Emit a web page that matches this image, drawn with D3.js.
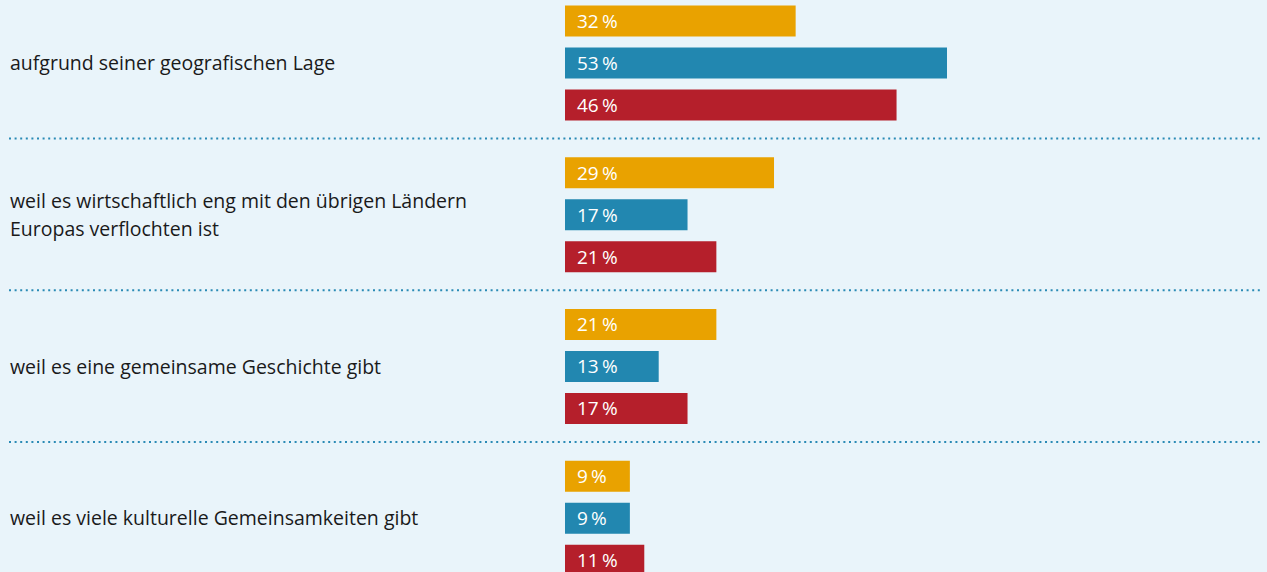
<!DOCTYPE html>
<html>
<head>
<meta charset="utf-8">
<script src="https://cdn.jsdelivr.net/npm/d3@7"></script>
<style>
  html, body { margin: 0; padding: 0; background: #e9f4fa; }
  svg { display: block; }
  text { font-family: "Open Sans", "Noto Sans", sans-serif; }
</style>
</head>
<body>
<svg id="chart"></svg>
<script>
var categories = [
  ["aufgrund seiner geografischen Lage"],
  ["weil es wirtschaftlich eng mit den übrigen Ländern", "Europas verflochten ist"],
  ["weil es eine gemeinsame Geschichte gibt"],
  ["weil es viele kulturelle Gemeinsamkeiten gibt"]
];
var series = ["A", "B", "C"];
var valuesA = [32, 29, 21, 9];
var valuesB = [53, 17, 13, 9];
var valuesC = [46, 21, 17, 11];
var colors = ["#e9a200", "#2287b0", "#b51f2b"];

var width = 1267, height = 572;
var svg = d3.select("#chart").attr("width", width).attr("height", height);

var catKeys = categories.map((c, i) => i);
var yGroup = d3.scaleBand().domain(catKeys).range([0, 607]);
var yInner = d3.scaleBand().domain(series).range([0, 126])
    .paddingInner(11 / 42).paddingOuter(11 / 84);
var x = d3.scaleLinear().domain([0, 53]).range([565, 947]);
var color = d3.scaleOrdinal().domain(series).range(colors);

var table = catKeys.map(i => ({
  cat: i,
  vals: [valuesA[i], valuesB[i], valuesC[i]].map((v, j) => ({key: series[j], value: v}))
}));

// dotted separators
svg.append("g").selectAll("line")
  .data(catKeys.slice(0, -1))
  .enter().append("line")
  .attr("x1", 9).attr("x2", 1260)
  .attr("y1", d => yGroup(d) + 138.5).attr("y2", d => yGroup(d) + 138.5)
  .attr("stroke", "#2a8ab5")
  .attr("stroke-width", 2)
  .attr("stroke-dasharray", "2 3.6");

var g = svg.append("g").selectAll("g")
  .data(table)
  .enter().append("g")
  .attr("transform", d => `translate(0, ${yGroup(d.cat)})`);

g.selectAll("rect")
  .data(d => d.vals)
  .enter().append("rect")
  .attr("x", x(0))
  .attr("y", d => yInner(d.key))
  .attr("width", d => x(d.value) - x(0))
  .attr("height", yInner.bandwidth())
  .attr("fill", d => color(d.key));

g.selectAll("text.val")
  .data(d => d.vals)
  .enter().append("text")
  .attr("class", "val")
  .attr("x", x(0) + 12)
  .attr("y", d => yInner(d.key) + yInner.bandwidth() / 2)
  .attr("dy", "0.36em")
  .attr("fill", "#fff")
  .style("font-size", "19px")
  .text(d => d.value + "\u2009%");

// category labels, centered on middle bar
g.append("text")
  .attr("x", 10)
  .attr("fill", "#1a1a1a")
  .style("font-size", "19.5px")
  .each(function(d) {
    var lines = categories[d.cat];
    var mid = yInner(series[1]) + yInner.bandwidth() / 2;
    var lh = 28.5;
    d3.select(this).selectAll("tspan")
      .data(lines)
      .enter().append("tspan")
      .attr("x", 10)
      .attr("y", (l, k) => mid + (k - (lines.length - 1) / 2) * lh)
      .attr("dy", "0.36em")
      .text(l => l);
  });
</script>
</body>
</html>
